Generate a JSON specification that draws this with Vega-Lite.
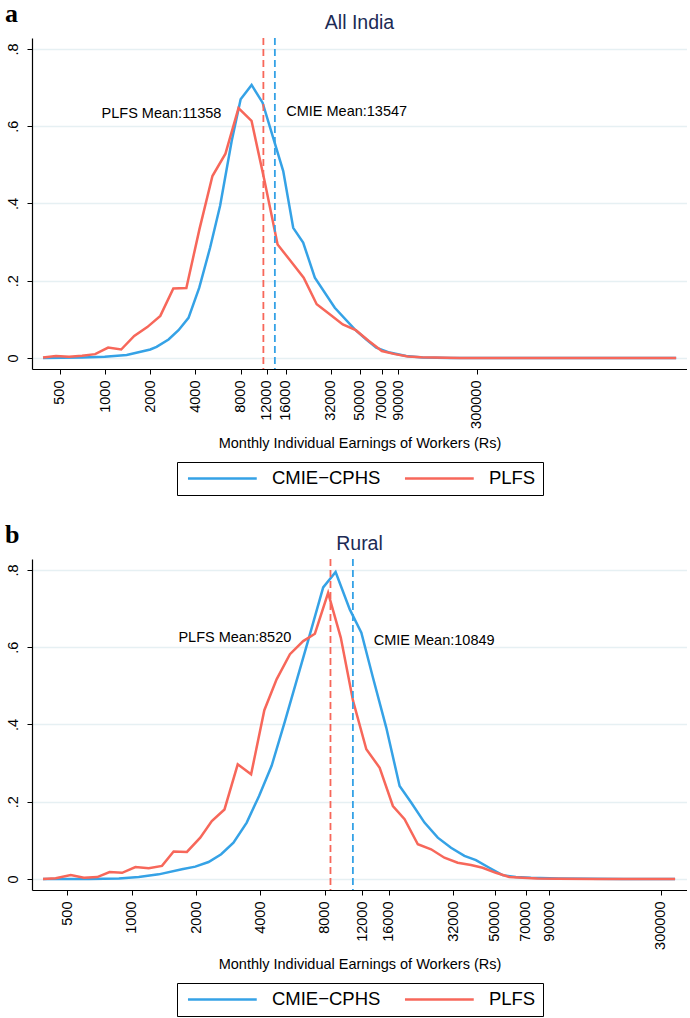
{
  "$schema": "https://vega.github.io/schema/vega-lite/v6.json",
  "padding": {"left": 5, "right": 0, "top": 0, "bottom": 0},
  "background": "white",
  "datasets": {
    "a": [
      {"series": "CMIE−CPHS", "earnings": 386, "density": 0},
      {"series": "CMIE−CPHS", "earnings": 700, "density": 0.001},
      {"series": "CMIE−CPHS", "earnings": 995, "density": 0.003},
      {"series": "CMIE−CPHS", "earnings": 1394, "density": 0.008},
      {"series": "CMIE−CPHS", "earnings": 2003, "density": 0.022},
      {"series": "CMIE−CPHS", "earnings": 2205, "density": 0.029},
      {"series": "CMIE−CPHS", "earnings": 2650, "density": 0.048},
      {"series": "CMIE−CPHS", "earnings": 3088, "density": 0.072},
      {"series": "CMIE−CPHS", "earnings": 3600, "density": 0.104},
      {"series": "CMIE−CPHS", "earnings": 4246, "density": 0.182},
      {"series": "CMIE−CPHS", "earnings": 5017, "density": 0.286},
      {"series": "CMIE−CPHS", "earnings": 5846, "density": 0.394},
      {"series": "CMIE−CPHS", "earnings": 6982, "density": 0.562},
      {"series": "CMIE−CPHS", "earnings": 8012, "density": 0.670},
      {"series": "CMIE−CPHS", "earnings": 9481, "density": 0.707},
      {"series": "CMIE−CPHS", "earnings": 11220, "density": 0.661},
      {"series": "CMIE−CPHS", "earnings": 15400, "density": 0.484},
      {"series": "CMIE−CPHS", "earnings": 17950, "density": 0.337},
      {"series": "CMIE−CPHS", "earnings": 20910, "density": 0.299},
      {"series": "CMIE−CPHS", "earnings": 25020, "density": 0.208},
      {"series": "CMIE−CPHS", "earnings": 33970, "density": 0.130},
      {"series": "CMIE−CPHS", "earnings": 46150, "density": 0.074},
      {"series": "CMIE−CPHS", "earnings": 55100, "density": 0.048},
      {"series": "CMIE−CPHS", "earnings": 64200, "density": 0.027},
      {"series": "CMIE−CPHS", "earnings": 78800, "density": 0.014},
      {"series": "CMIE−CPHS", "earnings": 101600, "density": 0.005},
      {"series": "CMIE−CPHS", "earnings": 131000, "density": 0.001},
      {"series": "CMIE−CPHS", "earnings": 200000, "density": 0.0003},
      {"series": "CMIE−CPHS", "earnings": 500000, "density": 0},
      {"series": "CMIE−CPHS", "earnings": 1500000, "density": 0},
      {"series": "CMIE−CPHS", "earnings": 6400000, "density": 0},
      {"series": "PLFS", "earnings": 386, "density": 0.001},
      {"series": "PLFS", "earnings": 471, "density": 0.005},
      {"series": "PLFS", "earnings": 576, "density": 0.003},
      {"series": "PLFS", "earnings": 703, "density": 0.006},
      {"series": "PLFS", "earnings": 859, "density": 0.010},
      {"series": "PLFS", "earnings": 1049, "density": 0.027},
      {"series": "PLFS", "earnings": 1281, "density": 0.022},
      {"series": "PLFS", "earnings": 1565, "density": 0.057},
      {"series": "PLFS", "earnings": 1912, "density": 0.080},
      {"series": "PLFS", "earnings": 2335, "density": 0.109},
      {"series": "PLFS", "earnings": 2852, "density": 0.180},
      {"series": "PLFS", "earnings": 3483, "density": 0.181},
      {"series": "PLFS", "earnings": 4255, "density": 0.333},
      {"series": "PLFS", "earnings": 5197, "density": 0.471},
      {"series": "PLFS", "earnings": 6347, "density": 0.529},
      {"series": "PLFS", "earnings": 7753, "density": 0.647},
      {"series": "PLFS", "earnings": 9470, "density": 0.614},
      {"series": "PLFS", "earnings": 11566, "density": 0.458},
      {"series": "PLFS", "earnings": 14127, "density": 0.294},
      {"series": "PLFS", "earnings": 17255, "density": 0.251},
      {"series": "PLFS", "earnings": 21076, "density": 0.208},
      {"series": "PLFS", "earnings": 25742, "density": 0.139},
      {"series": "PLFS", "earnings": 31442, "density": 0.113},
      {"series": "PLFS", "earnings": 38403, "density": 0.087},
      {"series": "PLFS", "earnings": 46906, "density": 0.072},
      {"series": "PLFS", "earnings": 57291, "density": 0.044},
      {"series": "PLFS", "earnings": 69976, "density": 0.018},
      {"series": "PLFS", "earnings": 85469, "density": 0.010},
      {"series": "PLFS", "earnings": 104393, "density": 0.004},
      {"series": "PLFS", "earnings": 127506, "density": 0.002},
      {"series": "PLFS", "earnings": 155738, "density": 0.001},
      {"series": "PLFS", "earnings": 232000, "density": 0.0003},
      {"series": "PLFS", "earnings": 500000, "density": 0},
      {"series": "PLFS", "earnings": 1500000, "density": 0},
      {"series": "PLFS", "earnings": 6400000, "density": 0}
    ],
    "b": [
      {"series": "CMIE−CPHS", "earnings": 384, "density": 0},
      {"series": "CMIE−CPHS", "earnings": 456, "density": 0},
      {"series": "CMIE−CPHS", "earnings": 630, "density": 0},
      {"series": "CMIE−CPHS", "earnings": 870, "density": 0.001},
      {"series": "CMIE−CPHS", "earnings": 1078, "density": 0.005},
      {"series": "CMIE−CPHS", "earnings": 1337, "density": 0.012},
      {"series": "CMIE−CPHS", "earnings": 1717, "density": 0.025},
      {"series": "CMIE−CPHS", "earnings": 1983, "density": 0.032},
      {"series": "CMIE−CPHS", "earnings": 2288, "density": 0.044},
      {"series": "CMIE−CPHS", "earnings": 2622, "density": 0.064},
      {"series": "CMIE−CPHS", "earnings": 2993, "density": 0.094},
      {"series": "CMIE−CPHS", "earnings": 3453, "density": 0.146},
      {"series": "CMIE−CPHS", "earnings": 3945, "density": 0.215},
      {"series": "CMIE−CPHS", "earnings": 4517, "density": 0.293},
      {"series": "CMIE−CPHS", "earnings": 5216, "density": 0.409},
      {"series": "CMIE−CPHS", "earnings": 5909, "density": 0.513},
      {"series": "CMIE−CPHS", "earnings": 6700, "density": 0.618},
      {"series": "CMIE−CPHS", "earnings": 7875, "density": 0.755},
      {"series": "CMIE−CPHS", "earnings": 9005, "density": 0.795},
      {"series": "CMIE−CPHS", "earnings": 10490, "density": 0.698},
      {"series": "CMIE−CPHS", "earnings": 11885, "density": 0.638},
      {"series": "CMIE−CPHS", "earnings": 13474, "density": 0.521},
      {"series": "CMIE−CPHS", "earnings": 15545, "density": 0.392},
      {"series": "CMIE−CPHS", "earnings": 17952, "density": 0.241},
      {"series": "CMIE−CPHS", "earnings": 20336, "density": 0.198},
      {"series": "CMIE−CPHS", "earnings": 23478, "density": 0.146},
      {"series": "CMIE−CPHS", "earnings": 27090, "density": 0.107},
      {"series": "CMIE−CPHS", "earnings": 31250, "density": 0.081},
      {"series": "CMIE−CPHS", "earnings": 36100, "density": 0.060},
      {"series": "CMIE−CPHS", "earnings": 40880, "density": 0.049},
      {"series": "CMIE−CPHS", "earnings": 47200, "density": 0.029},
      {"series": "CMIE−CPHS", "earnings": 54460, "density": 0.010},
      {"series": "CMIE−CPHS", "earnings": 62850, "density": 0.005},
      {"series": "CMIE−CPHS", "earnings": 73840, "density": 0.003},
      {"series": "CMIE−CPHS", "earnings": 100000, "density": 0.001},
      {"series": "CMIE−CPHS", "earnings": 200000, "density": 0},
      {"series": "CMIE−CPHS", "earnings": 350000, "density": 0},
      {"series": "PLFS", "earnings": 384, "density": 0},
      {"series": "PLFS", "earnings": 440, "density": 0.002},
      {"series": "PLFS", "earnings": 518, "density": 0.010},
      {"series": "PLFS", "earnings": 597, "density": 0.003},
      {"series": "PLFS", "earnings": 689, "density": 0.005},
      {"series": "PLFS", "earnings": 787, "density": 0.018},
      {"series": "PLFS", "earnings": 901, "density": 0.016},
      {"series": "PLFS", "earnings": 1040, "density": 0.031},
      {"series": "PLFS", "earnings": 1200, "density": 0.028},
      {"series": "PLFS", "earnings": 1385, "density": 0.034},
      {"series": "PLFS", "earnings": 1570, "density": 0.071},
      {"series": "PLFS", "earnings": 1812, "density": 0.070},
      {"series": "PLFS", "earnings": 2092, "density": 0.107},
      {"series": "PLFS", "earnings": 2370, "density": 0.150},
      {"series": "PLFS", "earnings": 2717, "density": 0.180},
      {"series": "PLFS", "earnings": 3134, "density": 0.297},
      {"series": "PLFS", "earnings": 3620, "density": 0.271},
      {"series": "PLFS", "earnings": 4175, "density": 0.437},
      {"series": "PLFS", "earnings": 4766, "density": 0.517},
      {"series": "PLFS", "earnings": 5503, "density": 0.582},
      {"series": "PLFS", "earnings": 6350, "density": 0.616},
      {"series": "PLFS", "earnings": 7202, "density": 0.635},
      {"series": "PLFS", "earnings": 8306, "density": 0.741},
      {"series": "PLFS", "earnings": 9520, "density": 0.625},
      {"series": "PLFS", "earnings": 10870, "density": 0.461},
      {"series": "PLFS", "earnings": 12540, "density": 0.336},
      {"series": "PLFS", "earnings": 14480, "density": 0.288},
      {"series": "PLFS", "earnings": 16700, "density": 0.189},
      {"series": "PLFS", "earnings": 18940, "density": 0.155},
      {"series": "PLFS", "earnings": 21850, "density": 0.090},
      {"series": "PLFS", "earnings": 25210, "density": 0.077},
      {"series": "PLFS", "earnings": 29100, "density": 0.055},
      {"series": "PLFS", "earnings": 33590, "density": 0.042},
      {"series": "PLFS", "earnings": 38750, "density": 0.036},
      {"series": "PLFS", "earnings": 43930, "density": 0.029},
      {"series": "PLFS", "earnings": 50670, "density": 0.016},
      {"series": "PLFS", "earnings": 58520, "density": 0.005},
      {"series": "PLFS", "earnings": 67550, "density": 0.003},
      {"series": "PLFS", "earnings": 79300, "density": 0.001},
      {"series": "PLFS", "earnings": 98400, "density": 0.0005},
      {"series": "PLFS", "earnings": 151000, "density": 0},
      {"series": "PLFS", "earnings": 232000, "density": 0},
      {"series": "PLFS", "earnings": 350000, "density": 0}
    ],
    "meansA": [
      {"series": "CMIE−CPHS", "mean": 13547, "label": "CMIE Mean:13547", "lx": 16125, "ly": 0.637},
      {"series": "PLFS", "mean": 11358, "label": "PLFS Mean:11358", "lx": 5963, "ly": 0.632}
    ],
    "meansB": [
      {"series": "CMIE−CPHS", "mean": 10849, "label": "CMIE Mean:10849", "lx": 13575, "ly": 0.616},
      {"series": "PLFS", "mean": 8520, "label": "PLFS Mean:8520", "lx": 5583, "ly": 0.625}
    ]
  },
  "spacing": 25,
  "vconcat": [
    {
      "title": {"text": "a", "anchor": "start", "font": "Liberation Serif", "fontSize": 26, "fontWeight": "bold", "color": "black", "offset": -14},
      "resolve": {"scale": {"color": "independent"}, "legend": {"color": "independent"}},
      "vconcat": [
        {
          "title": {"text": "All India"},
          "width": 655,
          "height": 331,
          "layer": [
            {
              "data": {"name": "a"},
              "mark": {"type": "line", "strokeWidth": 2.5},
              "encoding": {
                "x": {"field": "earnings", "type": "quantitative",
                  "scale": {"type": "log", "domain": [326, 7560000], "nice": false},
                  "axis": {"values": [500, 1000, 2000, 4000, 8000, 12000, 16000, 32000, 50000, 70000, 90000, 300000], "format": "d", "labelAngle": 270, "labelAlign": "right", "labelBaseline": "middle", "labelOverlap": false, "labelFlush": false, "grid": false, "title": "Monthly Individual Earnings of Workers (Rs)", "titlePadding": 8, "labelPadding": 6}},
                "y": {"field": "density", "type": "quantitative",
                  "scale": {"domain": [-0.0285, 0.8285], "nice": false, "zero": false},
                  "axis": {"values": [0, 0.2, 0.4, 0.6, 0.8], "labelExpr": "datum.value == 0 ? '0' : replace(format(datum.value, '.1f'), '0.', '.')", "labelAngle": 270, "labelAlign": "center", "labelBaseline": "bottom", "grid": true, "title": null, "labelPadding": 7}},
                "color": {"field": "series", "type": "nominal", "sort": ["CMIE−CPHS", "PLFS"],
                  "scale": {"domain": ["CMIE−CPHS", "PLFS"], "range": ["#35A2E6", "#F7675A"]},
                  "legend": {"title": null}}
              }
            },
            {
              "data": {"name": "meansA"},
              "mark": {"type": "rule", "strokeDash": [7, 4], "strokeWidth": 1.8},
              "encoding": {
                "x": {"field": "mean", "type": "quantitative"},
                "color": {"field": "series", "type": "nominal"}
              }
            },
            {
              "data": {"name": "meansA"},
              "transform": [{"filter": "datum.series == 'PLFS'"}],
              "mark": {"type": "text", "align": "right", "baseline": "middle", "font": "Liberation Sans", "fontSize": 14.5, "color": "black"},
              "encoding": {
                "x": {"field": "lx", "type": "quantitative"},
                "y": {"field": "ly", "type": "quantitative"},
                "text": {"field": "label"}
              }
            },
            {
              "data": {"name": "meansA"},
              "transform": [{"filter": "datum.series != 'PLFS'"}],
              "mark": {"type": "text", "align": "left", "baseline": "middle", "font": "Liberation Sans", "fontSize": 14.5, "color": "black"},
              "encoding": {
                "x": {"field": "lx", "type": "quantitative"},
                "y": {"field": "ly", "type": "quantitative"},
                "text": {"field": "label"}
              }
            }
          ]
        }
      ]
    },
    {
      "title": {"text": "b", "anchor": "start", "font": "Liberation Serif", "fontSize": 26, "fontWeight": "bold", "color": "black", "offset": -14},
      "resolve": {"scale": {"color": "independent"}, "legend": {"color": "independent"}},
      "vconcat": [
        {
          "title": {"text": "Rural"},
          "width": 655,
          "height": 331,
          "layer": [
            {
              "data": {"name": "b"},
              "mark": {"type": "line", "strokeWidth": 2.5},
              "encoding": {
                "x": {"field": "earnings", "type": "quantitative",
                  "scale": {"type": "log", "domain": [341, 398000], "nice": false},
                  "axis": {"values": [500, 1000, 2000, 4000, 8000, 12000, 16000, 32000, 50000, 70000, 90000, 300000], "format": "d", "labelAngle": 270, "labelAlign": "right", "labelBaseline": "middle", "labelOverlap": false, "labelFlush": false, "grid": false, "title": "Monthly Individual Earnings of Workers (Rs)", "titlePadding": 8, "labelPadding": 6}},
                "y": {"field": "density", "type": "quantitative",
                  "scale": {"domain": [-0.0285, 0.8285], "nice": false, "zero": false},
                  "axis": {"values": [0, 0.2, 0.4, 0.6, 0.8], "labelExpr": "datum.value == 0 ? '0' : replace(format(datum.value, '.1f'), '0.', '.')", "labelAngle": 270, "labelAlign": "center", "labelBaseline": "bottom", "grid": true, "title": null, "labelPadding": 7}},
                "color": {"field": "series", "type": "nominal", "sort": ["CMIE−CPHS", "PLFS"],
                  "scale": {"domain": ["CMIE−CPHS", "PLFS"], "range": ["#35A2E6", "#F7675A"]},
                  "legend": {"title": null}}
              }
            },
            {
              "data": {"name": "meansB"},
              "mark": {"type": "rule", "strokeDash": [7, 4], "strokeWidth": 1.8},
              "encoding": {
                "x": {"field": "mean", "type": "quantitative"},
                "color": {"field": "series", "type": "nominal"}
              }
            },
            {
              "data": {"name": "meansB"},
              "transform": [{"filter": "datum.series == 'PLFS'"}],
              "mark": {"type": "text", "align": "right", "baseline": "middle", "font": "Liberation Sans", "fontSize": 14.5, "color": "black"},
              "encoding": {
                "x": {"field": "lx", "type": "quantitative"},
                "y": {"field": "ly", "type": "quantitative"},
                "text": {"field": "label"}
              }
            },
            {
              "data": {"name": "meansB"},
              "transform": [{"filter": "datum.series != 'PLFS'"}],
              "mark": {"type": "text", "align": "left", "baseline": "middle", "font": "Liberation Sans", "fontSize": 14.5, "color": "black"},
              "encoding": {
                "x": {"field": "lx", "type": "quantitative"},
                "y": {"field": "ly", "type": "quantitative"},
                "text": {"field": "label"}
              }
            }
          ]
        }
      ]
    }
  ],
  "resolve": {"scale": {"color": "independent", "x": "independent", "y": "independent"}, "legend": {"color": "independent"}},
  "config": {
    "view": {"stroke": null},
    "font": "Liberation Sans",
    "title": {"font": "Liberation Sans", "fontSize": 19.5, "fontWeight": "normal", "color": "#1C2B55", "anchor": "middle", "offset": 4},
    "axis": {
      "domainColor": "black", "domainWidth": 1.2, "tickColor": "black", "tickSize": 5, "tickWidth": 1,
      "labelFont": "Liberation Sans", "labelFontSize": 14.5, "labelColor": "black",
      "titleFont": "Liberation Sans", "titleFontSize": 14.5, "titleFontWeight": "normal", "titleColor": "black",
      "gridColor": "#E6F0F3", "gridWidth": 1.5
    },
    "legend": {
      "orient": "bottom", "direction": "horizontal",
      "layout": {"bottom": {"anchor": "middle", "bounds": "flush"}},
      "symbolType": "M-1,0H12", "symbolSize": 112, "symbolStrokeWidth": 2.5, "symbolDash": [1, 0],
      "labelFont": "Liberation Sans", "labelFontSize": 18.5, "labelColor": "black", "labelOffset": 69.4,
      "strokeColor": "black", "fillColor": "white", "padding": 7, "columnPadding": 18, "offset": 12
    }
  }
}
